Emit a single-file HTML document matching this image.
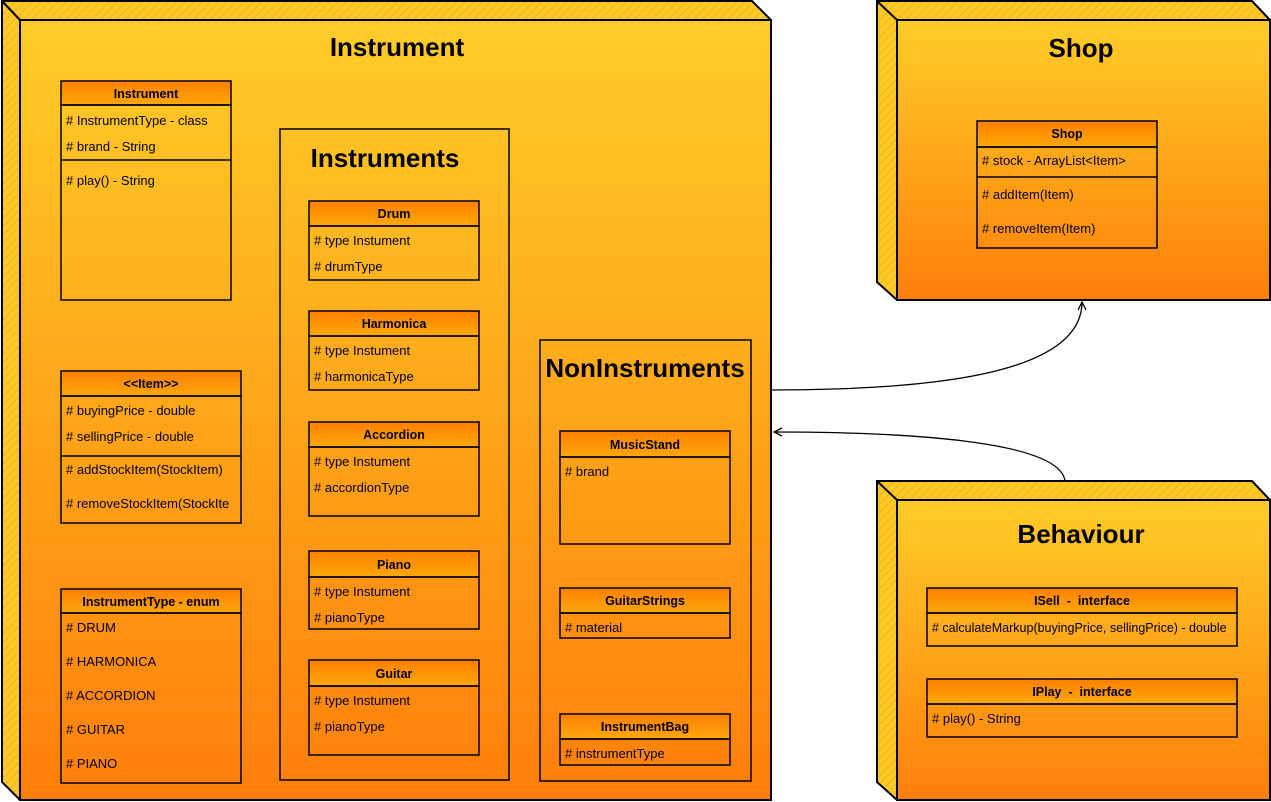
<!DOCTYPE html>
<html><head><meta charset="utf-8"><style>
html,body{margin:0;padding:0;background:#fff;width:1271px;height:802px;overflow:hidden}
svg{display:block}
text{font-family:"Liberation Sans",sans-serif;fill:#000;white-space:pre}
.t{font-size:13px}
.h{font-size:12.5px;font-weight:bold;text-anchor:middle}
.T{font-size:26px;font-weight:bold;text-anchor:middle}
.b{fill:none;stroke:#000;stroke-width:1.5}
</style></head><body>
<svg width="1271" height="802" viewBox="0 0 1271 802" xmlns="http://www.w3.org/2000/svg">
<defs>
<linearGradient id="ng" x1="0" y1="0" x2="0" y2="1"><stop offset="0" stop-color="#ffcd28"/><stop offset="1" stop-color="#ff7f0a"/></linearGradient>
<linearGradient id="hg" x1="0" y1="0" x2="0" y2="1"><stop offset="0" stop-color="#ff7f00"/><stop offset="1" stop-color="#ffa80a"/></linearGradient>
<pattern id="hat" width="6" height="6" patternUnits="userSpaceOnUse" patternTransform="rotate(45)"><rect width="6" height="6" fill="#ffc829"/><line x1="0" y1="0" x2="0" y2="6" stroke="#e0a800" stroke-width="1"/></pattern>
<marker id="ar" markerWidth="10" markerHeight="10" refX="9" refY="5" orient="auto" markerUnits="userSpaceOnUse"><path d="M1,1 L9,5 L1,9" fill="none" stroke="#000" stroke-width="1.3"/></marker>
</defs>

<path d="M771,390 C950,390 1082,370 1082,302" fill="none" stroke="#000" stroke-width="1.3" marker-end="url(#ar)"/>
<path d="M1065,481 C1060,440 900,432 774,432" fill="none" stroke="#000" stroke-width="1.3" marker-end="url(#ar)"/>

<polygon points="2,1 752,1 771,20 771,800 20,800 2,782" fill="url(#hat)" stroke="#000" stroke-width="2"/>
<rect x="20" y="20" width="751" height="780" fill="url(#ng)" stroke="#000" stroke-width="2"/>
<line x1="2" y1="1" x2="20" y2="20" stroke="#000" stroke-width="2"/>
<text class="T" x="397" y="56">Instrument</text>

<polygon points="877,1 1252,1 1270,20 1270,300 897,300 877,282" fill="url(#hat)" stroke="#000" stroke-width="2"/>
<rect x="897" y="20" width="373" height="280" fill="url(#ng)" stroke="#000" stroke-width="2"/>
<line x1="877" y1="1" x2="897" y2="20" stroke="#000" stroke-width="2"/>
<text class="T" x="1081" y="57">Shop</text>

<polygon points="877,481 1252,481 1270,500 1270,800 897,800 877,782" fill="url(#hat)" stroke="#000" stroke-width="2"/>
<rect x="897" y="500" width="373" height="300" fill="url(#ng)" stroke="#000" stroke-width="2"/>
<line x1="877" y1="481" x2="897" y2="500" stroke="#000" stroke-width="2"/>
<text class="T" x="1081" y="543">Behaviour</text>

<rect x="280" y="129" width="229" height="651" class="b"/>
<text class="T" x="385" y="167">Instruments</text>
<rect x="540" y="340" width="211" height="441" class="b"/>
<text class="T" x="645" y="377">NonInstruments</text>

<rect x="61" y="81" width="170" height="24" class="b" style="fill:url(#hg)"/>
<text class="h" x="146" y="98">Instrument</text>
<rect x="61" y="105" width="170" height="195" class="b"/>
<line x1="61" y1="160" x2="231" y2="160" stroke="#000" stroke-width="1.5"/>
<text class="t" x="66" y="125"># InstrumentType - class</text>
<text class="t" x="66" y="151"># brand - String</text>
<text class="t" x="66" y="185"># play() - String</text>

<rect x="61" y="371" width="180" height="25" class="b" style="fill:url(#hg)"/>
<text class="h" x="151" y="388">&lt;&lt;Item&gt;&gt;</text>
<rect x="61" y="396" width="180" height="127" class="b"/>
<line x1="61" y1="456" x2="241" y2="456" stroke="#000" stroke-width="1.5"/>
<text class="t" x="66" y="415"># buyingPrice - double</text>
<text class="t" x="66" y="441"># sellingPrice - double</text>
<text class="t" x="66" y="474"># addStockItem(StockItem)</text>
<text class="t" x="66" y="508"># removeStockItem(StockIte</text>

<rect x="61" y="589" width="180" height="24" class="b" style="fill:url(#hg)"/>
<text class="h" x="151" y="606">InstrumentType - enum</text>
<rect x="61" y="613" width="180" height="170" class="b"/>
<text class="t" x="66" y="632"># DRUM</text>
<text class="t" x="66" y="666"># HARMONICA</text>
<text class="t" x="66" y="700"># ACCORDION</text>
<text class="t" x="66" y="734"># GUITAR</text>
<text class="t" x="66" y="768"># PIANO</text>

<rect x="309" y="201" width="170" height="25" class="b" style="fill:url(#hg)"/>
<text class="h" x="394" y="218">Drum</text>
<rect x="309" y="226" width="170" height="54" class="b"/>
<text class="t" x="314" y="245"># type Instument</text>
<text class="t" x="314" y="271"># drumType</text>

<rect x="309" y="311" width="170" height="25" class="b" style="fill:url(#hg)"/>
<text class="h" x="394" y="328">Harmonica</text>
<rect x="309" y="336" width="170" height="54" class="b"/>
<text class="t" x="314" y="355"># type Instument</text>
<text class="t" x="314" y="381"># harmonicaType</text>

<rect x="309" y="422" width="170" height="25" class="b" style="fill:url(#hg)"/>
<text class="h" x="394" y="439">Accordion</text>
<rect x="309" y="447" width="170" height="69" class="b"/>
<text class="t" x="314" y="466"># type Instument</text>
<text class="t" x="314" y="492"># accordionType</text>

<rect x="309" y="551" width="170" height="26" class="b" style="fill:url(#hg)"/>
<text class="h" x="394" y="569">Piano</text>
<rect x="309" y="577" width="170" height="52" class="b"/>
<text class="t" x="314" y="596"># type Instument</text>
<text class="t" x="314" y="622"># pianoType</text>

<rect x="309" y="660" width="170" height="26" class="b" style="fill:url(#hg)"/>
<text class="h" x="394" y="678">Guitar</text>
<rect x="309" y="686" width="170" height="69" class="b"/>
<text class="t" x="314" y="705"># type Instument</text>
<text class="t" x="314" y="731"># pianoType</text>

<rect x="560" y="431" width="170" height="26" class="b" style="fill:url(#hg)"/>
<text class="h" x="645" y="449">MusicStand</text>
<rect x="560" y="457" width="170" height="87" class="b"/>
<text class="t" x="565" y="476"># brand</text>

<rect x="560" y="588" width="170" height="25" class="b" style="fill:url(#hg)"/>
<text class="h" x="645" y="605">GuitarStrings</text>
<rect x="560" y="613" width="170" height="25" class="b"/>
<text class="t" x="565" y="632"># material</text>

<rect x="560" y="714" width="170" height="25" class="b" style="fill:url(#hg)"/>
<text class="h" x="645" y="731">InstrumentBag</text>
<rect x="560" y="739" width="170" height="26" class="b"/>
<text class="t" x="565" y="758"># instrumentType</text>

<rect x="977" y="121" width="180" height="26" class="b" style="fill:url(#hg)"/>
<text class="h" x="1067" y="138">Shop</text>
<rect x="977" y="147" width="180" height="101" class="b"/>
<line x1="977" y1="177" x2="1157" y2="177" stroke="#000" stroke-width="1.5"/>
<text class="t" x="982" y="165"># stock - ArrayList&lt;Item&gt;</text>
<text class="t" x="982" y="199"># addItem(Item)</text>
<text class="t" x="982" y="233"># removeItem(Item)</text>

<rect x="927" y="588" width="310" height="25" class="b" style="fill:url(#hg)"/>
<text class="h" x="1082" y="605">ISell  -  interface</text>
<rect x="927" y="613" width="310" height="33" class="b"/>
<text class="t" x="932" y="632" style="font-size:12.5px"># calculateMarkup(buyingPrice, sellingPrice) - double</text>

<rect x="927" y="679" width="310" height="25" class="b" style="fill:url(#hg)"/>
<text class="h" x="1082" y="696">IPlay  -  interface</text>
<rect x="927" y="704" width="310" height="33" class="b"/>
<text class="t" x="932" y="723"># play() - String</text>
</svg>
</body></html>
